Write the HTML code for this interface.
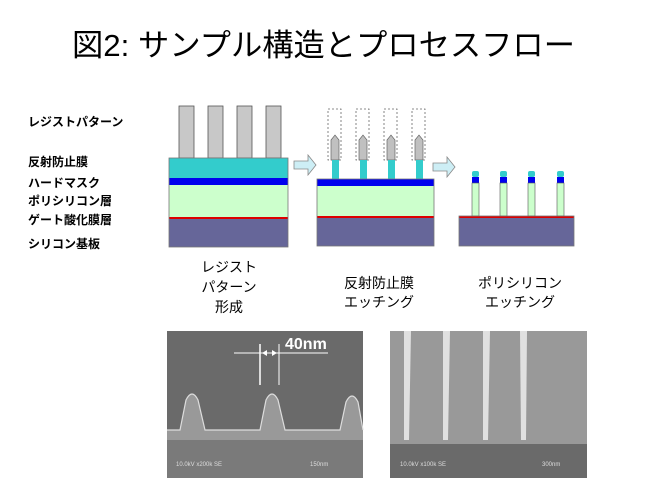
<!DOCTYPE html>
<html><head><meta charset="utf-8"><style>
html,body{margin:0;padding:0;background:#fff}
svg{display:block}
text{font-family:"Liberation Sans","Noto Sans CJK JP",sans-serif}
</style></head><body>
<svg width="651" height="489" viewBox="0 0 651 489" xmlns="http://www.w3.org/2000/svg">
<text x="72" y="56" font-size="31" textLength="503" lengthAdjust="spacingAndGlyphs" fill="#000">図2: サンプル構造とプロセスフロー</text>
<g font-size="12" font-weight="bold" fill="#000">
<text x="28" y="126">レジストパターン</text>
<text x="28" y="166">反射防止膜</text>
<text x="28" y="187">ハードマスク</text>
<text x="28" y="205">ポリシリコン層</text>
<text x="28" y="224">ゲート酸化膜層</text>
<text x="28" y="248">シリコン基板</text>
</g>
<!-- block 1 -->
<g stroke="#555" stroke-width="0.8">
<rect x="179" y="106" width="15" height="52" fill="#c8c8c8"/>
<rect x="208" y="106" width="15" height="52" fill="#c8c8c8"/>
<rect x="237" y="106" width="15" height="52" fill="#c8c8c8"/>
<rect x="266" y="106" width="15" height="52" fill="#c8c8c8"/>
</g>
<rect x="169" y="158" width="119" height="20" fill="#33cccc"/>
<rect x="169" y="178" width="119" height="7" fill="#0000ee"/>
<rect x="169" y="185" width="119" height="32" fill="#ccffcc"/>
<rect x="169" y="217" width="119" height="2" fill="#dd0000"/>
<rect x="169" y="219" width="119" height="28" fill="#666699"/>
<rect x="169" y="158" width="119" height="89" fill="none" stroke="#777" stroke-width="0.8"/>
<!-- arrow 1 -->
<path d="M294,161 H308 V155 L316,165 L308,175 V169 H294 Z" fill="#cdeef5" stroke="#888" stroke-width="0.8"/>
<!-- block 2 -->
<g fill="none" stroke="#666" stroke-width="0.8" stroke-dasharray="2,2">
<rect x="328" y="109" width="13" height="51"/>
<rect x="356" y="109" width="13" height="51"/>
<rect x="384" y="109" width="13" height="51"/>
<rect x="412" y="109" width="13" height="51"/>
</g>
<g fill="#c0c0c0" stroke="#666" stroke-width="0.7">
<path d="M331,160 V140 L335,135 L339,140 V160 Z"/>
<path d="M359,160 V140 L363,135 L367,140 V160 Z"/>
<path d="M387,160 V140 L391,135 L395,140 V160 Z"/>
<path d="M415,160 V140 L419,135 L423,140 V160 Z"/>
</g>
<g fill="#33cccc">
<rect x="332" y="160" width="7" height="19"/>
<rect x="360" y="160" width="7" height="19"/>
<rect x="388" y="160" width="7" height="19"/>
<rect x="416" y="160" width="7" height="19"/>
</g>
<rect x="317" y="179" width="117" height="7" fill="#0000ee"/>
<rect x="317" y="186" width="117" height="30" fill="#ccffcc"/>
<rect x="317" y="216" width="117" height="2" fill="#dd0000"/>
<rect x="317" y="218" width="117" height="28" fill="#666699"/>
<rect x="317" y="179" width="117" height="67" fill="none" stroke="#777" stroke-width="0.8"/>
<!-- arrow 2 -->
<path d="M433,163 H447 V157 L455,167 L447,177 V171 H433 Z" fill="#cdeef5" stroke="#888" stroke-width="0.8"/>
<!-- block 3 -->
<g>
<rect x="472" y="171" width="7" height="6" rx="2" fill="#33cccc"/>
<rect x="500" y="171" width="7" height="6" rx="2" fill="#33cccc"/>
<rect x="528" y="171" width="7" height="6" rx="2" fill="#33cccc"/>
<rect x="557" y="171" width="7" height="6" rx="2" fill="#33cccc"/>
<rect x="472" y="177" width="7" height="6" fill="#0000ee"/>
<rect x="500" y="177" width="7" height="6" fill="#0000ee"/>
<rect x="528" y="177" width="7" height="6" fill="#0000ee"/>
<rect x="557" y="177" width="7" height="6" fill="#0000ee"/>
<g fill="#ccffcc" stroke="#555" stroke-width="0.6">
<rect x="472" y="183" width="7" height="33"/>
<rect x="500" y="183" width="7" height="33"/>
<rect x="528" y="183" width="7" height="33"/>
<rect x="557" y="183" width="7" height="33"/>
</g>
</g>
<rect x="459" y="216" width="115" height="2" fill="#dd0000"/>
<rect x="459" y="218" width="115" height="28" fill="#666699"/>
<rect x="459" y="216" width="115" height="30" fill="none" stroke="#777" stroke-width="0.8"/>
<!-- captions -->
<g font-size="14" text-anchor="middle" fill="#000">
<text x="229" y="272">レジスト</text>
<text x="229" y="292">パターン</text>
<text x="229" y="312">形成</text>
<text x="379" y="288">反射防止膜</text>
<text x="379" y="307">エッチング</text>
<text x="520" y="288">ポリシリコン</text>
<text x="520" y="307">エッチング</text>
</g>
<!-- SEM left -->
<rect x="167" y="331" width="196" height="147" fill="#6a6a6a"/>
<path d="M167,430 H180 L186,400 Q192,388 198,400 L205,430 H260 L266,400 Q272,388 278,400 L285,430 H340 L346,402 Q352,390 358,402 L363,430 V478 H167 Z" fill="#999"/>
<path d="M167,430 H180 L186,400 Q192,388 198,400 L205,430 H260 L266,400 Q272,388 278,400 L285,430 H340 L346,402 Q352,390 358,402 L363,430" fill="none" stroke="#ddd" stroke-width="1.2"/>
<rect x="167" y="440" width="196" height="38" fill="#7a7a7a"/>
<line x1="234" y1="353" x2="328" y2="353" stroke="#fff" stroke-width="1"/>
<line x1="260" y1="344" x2="260" y2="385" stroke="#fff" stroke-width="1.5"/>
<line x1="279" y1="344" x2="279" y2="385" stroke="#fff" stroke-width="1"/>
<path d="M262,353 L267,350 V356 Z M277,353 L272,350 V356 Z" fill="#fff"/>
<text x="285" y="349" font-size="16" font-weight="bold" fill="#fff">40nm</text>
<text x="176" y="466" font-size="6" fill="#ddd">10.0kV x200k SE</text>
<text x="310" y="466" font-size="6" fill="#ddd">150nm</text>
<!-- SEM right -->
<rect x="390" y="331" width="197" height="147" fill="#999"/>
<g fill="#e0e0e0">
<path d="M404,331 H411 L409,440 H404 Z"/>
<path d="M443,331 H450 L448,440 H443 Z"/>
<path d="M483,331 H490 L488,440 H483 Z"/>
<path d="M520,331 H527 L526,440 H521 Z"/>
</g>
<rect x="390" y="444" width="197" height="34" fill="#6a6a6a"/>
<text x="400" y="466" font-size="6" fill="#ddd">10.0kV x100k SE</text>
<text x="542" y="466" font-size="6" fill="#ddd">300nm</text>
</svg>
</body></html>
